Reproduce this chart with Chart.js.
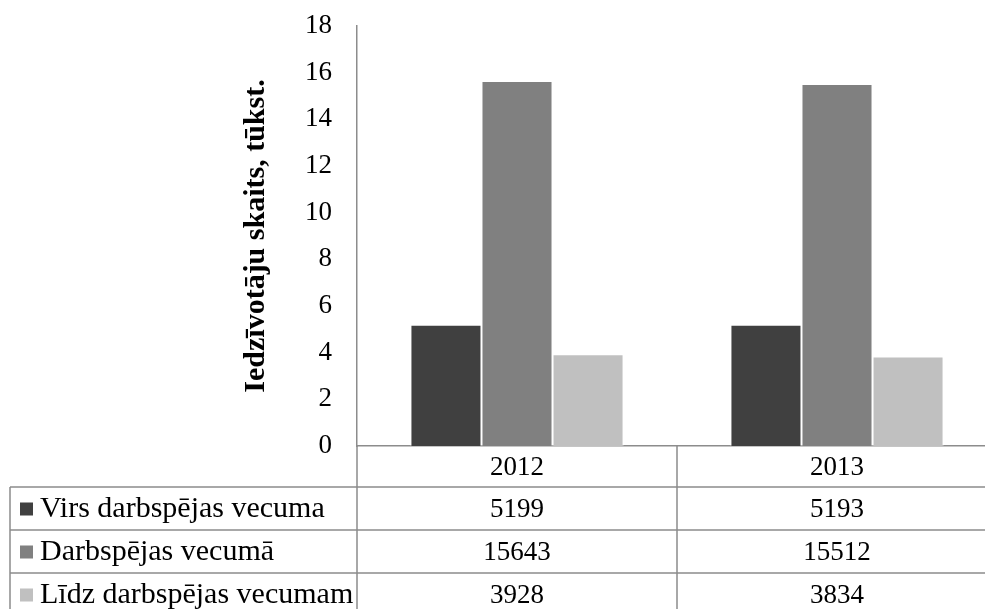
<!DOCTYPE html>
<html>
<head>
<meta charset="utf-8">
<script src="https://cdn.jsdelivr.net/npm/chart.js@4/dist/chart.umd.min.js"></script>
<style>
  html, body { margin: 0; padding: 0; background: #fff; overflow: hidden; }
  #wrap { width: 1000px; height: 609px; }
</style>
</head>
<body>
<div id="wrap"><canvas id="chart" width="1000" height="609"></canvas></div>
<script>
// data (people, thousands on the axis)
const years = ['2012', '2013'];
const seriesNames = ['Virs darbspējas vecuma', 'Darbspējas vecumā', 'Līdz darbspējas vecumam'];
const overAge = [5199, 5193];
const workingAge = [15643, 15512];
const underAge = [3928, 3834];
const seriesColors = ['#404040', '#808080', '#c0c0c0'];
const yTicks = [0, 2, 4, 6, 8, 10, 12, 14, 16, 18];

const serif = "'Liberation Serif', 'Times New Roman', serif";
const lineColor = '#8c8c8c';
const rowLines = [487, 530, 573]; // table row boundaries below the axis

const allSeries = [overAge, workingAge, underAge];

// draws the data table under the plot, columns follow the x scale
const dataTable = {
    id: 'dataTable',
    afterDraw(chart) {
        const ctx = chart.ctx;
        const area = chart.chartArea;
        const x = chart.scales.x;
        const colW = (area.right - area.left) / years.length;
        const bottom = chart.height;
        ctx.save();
        ctx.strokeStyle = lineColor;
        ctx.lineWidth = 1.5;
        ctx.beginPath();
        // y axis continues down through the table
        ctx.moveTo(area.left, area.bottom);
        ctx.lineTo(area.left, bottom);
        // column dividers
        for (let i = 1; i < years.length; i++) {
            const cx = area.left + colW * i;
            ctx.moveTo(cx, area.bottom);
            ctx.lineTo(cx, bottom);
        }
        // left border of the legend column
        ctx.moveTo(10, rowLines[0]);
        ctx.lineTo(10, bottom);
        rowLines.forEach(y => {
            ctx.moveTo(10, y);
            ctx.lineTo(chart.width, y);
        });
        ctx.stroke();

        ctx.fillStyle = '#000';
        ctx.textBaseline = 'middle';
        ctx.textAlign = 'center';
        ctx.font = '27px ' + serif;
        years.forEach((yr, i) => {
            ctx.fillText(yr, x.getPixelForValue(i), (area.bottom + rowLines[0]) / 2 + 1);
        });
        const rowTops = rowLines.concat([rowLines[2] + 43]);
        seriesNames.forEach((name, s) => {
            const cy = (rowTops[s] + rowTops[s + 1]) / 2 + 1;
            ctx.fillStyle = seriesColors[s];
            ctx.fillRect(20, cy - 7, 13, 13);
            ctx.fillStyle = '#000';
            ctx.textAlign = 'left';
            ctx.font = '30px ' + serif;
            ctx.fillText(name, 40, cy);
            ctx.textAlign = 'center';
            ctx.font = '27px ' + serif;
            allSeries[s].forEach((v, i) => {
                ctx.fillText(String(v), x.getPixelForValue(i), cy);
            });
        });
        ctx.restore();
    }
};

new Chart(document.getElementById('chart'), {
    type: 'bar',
    data: {
        labels: years,
        datasets: seriesNames.map((name, s) => ({
            label: name,
            data: allSeries[s].map(v => v / 1000),
            backgroundColor: seriesColors[s],
            borderColor: 'rgba(255,255,255,0.7)',
            borderWidth: 1,
            categoryPercentage: 0.666,
            barPercentage: 1.0
        }))
    },
    options: {
        responsive: false,
        animation: false,
        layout: { padding: { left: 238, top: 26, right: 3, bottom: 163 } },
        plugins: {
            legend: { display: false },
            tooltip: { enabled: false }
        },
        scales: {
            x: {
                grid: { display: false, drawTicks: false },
                border: { display: true, color: lineColor, width: 1.5 },
                ticks: { display: false },
                afterFit(scale) { scale.height = 0; scale.paddingLeft = 0; scale.paddingRight = 0; }
            },
            y: {
                min: 0,
                max: 18,
                afterBuildTicks(scale) { scale.ticks = yTicks.map(v => ({ value: v })); },
                grid: { display: false, drawTicks: false },
                border: { display: true, color: lineColor, width: 1.5 },
                ticks: {
                    color: '#000',
                    padding: 25,
                    font: { family: serif, size: 27 }
                },
                title: {
                    display: true,
                    text: 'Iedzīvotāju skaits, tūkst.',
                    color: '#000',
                    padding: { top: 0, bottom: 0 },
                    font: { family: serif, size: 30, weight: 'bold' }
                },
                afterFit(scale) {
                    scale.width = 119;
                    scale.paddingTop = 0;
                    scale.paddingBottom = 0;
                }
            }
        }
    },
    plugins: [dataTable]
});
</script>
</body>
</html>
